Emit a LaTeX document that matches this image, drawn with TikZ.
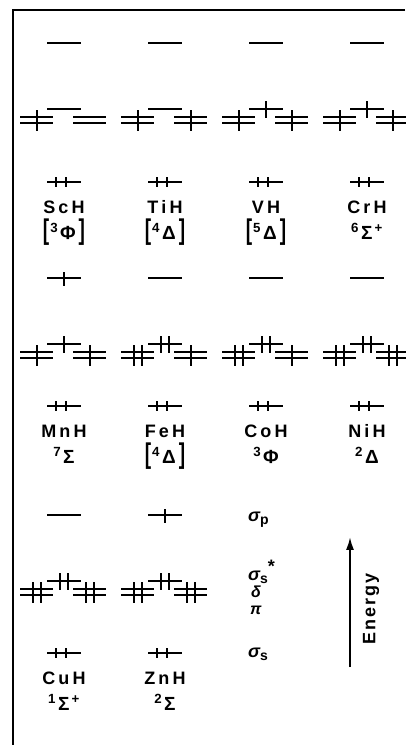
\documentclass[tikz,border=0pt]{standalone}
\usepackage{fontspec}
\setmainfont{Liberation Sans}
\usepackage{graphicx}
\usetikzlibrary{arrows.meta,positioning,calc}

% tall square brackets of the term symbols
\newcommand{\tbl}{\raisebox{-0.05em}{\scalebox{1}[1.5]{[}}\hspace{1pt}}
\newcommand{\tbr}{\hspace{3pt}\raisebox{-0.05em}{\scalebox{1}[1.5]{]}}}
% spin multiplicity
\newcommand{\mult}[1]{\textsuperscript{#1}\hspace{2pt}}
% subscript of an orbital label
\newcommand{\orbsub}[1]{\raisebox{-0.2em}{\fontsize{14}{14}\selectfont\upshape #1}}
% electrons on one level: #1 count, #2 x, #3 top, #4 bottom
\newcommand{\orbticks}[4]{%
  \ifcase#1\relax\or
    \draw[electron] (#2,#3) -- (#2,#4);
  \or
    \draw[electron] (#2-4,#3) -- (#2-4,#4);
    \draw[electron] (#2+4,#3) -- (#2+4,#4);
  \fi}

\begin{document}
\begin{tikzpicture}[x=1pt, y=-1pt,
  level/.style={line width=2.9pt},
  electron/.style={line width=2.3pt},
  frame/.style={line width=2pt},
  molname/.style={font=\fontsize{18}{18}\selectfont\bfseries\addfontfeature{LetterSpace=18},
                  inner sep=0pt, anchor=base},
  molstate/.style={font=\fontsize{19}{19}\selectfont\bfseries, inner sep=0pt, anchor=base},
  orblabel/.style={font=\fontsize{18}{18}\selectfont\bfseries\itshape, inner sep=0pt,
                   anchor=base west},
  smallorb/.style={orblabel, font=\fontsize{16}{16}\selectfont\bfseries\itshape},
  energy/.style={-{Latex[length=4.5mm,width=2.8mm]}, line width=2pt},
]
\useasboundingbox (0,0) rectangle (405,745);

% frame round the diagram
\coordinate (ftop) at (405,10);
\coordinate (fcorner) at (13,10);
\coordinate (fbot) at (13,745);
\draw[frame] (ftop) -- (fcorner) -- (fbot);

% one level scheme per hydride:
% x / sigma_p y / sigma_s y / e(sigma_p) / e(pi) / e(sigma_s*) / e(delta) / name / state
\foreach \cx/\by/\bs/\np/\npi/\nst/\nd/\mol/\st in {
    64/43/182/0/1/0/0/ScH/{\tbl\mult{3}Φ\tbr},
    165/43/182/0/1/0/1/TiH/{\tbl\mult{4}Δ\tbr},
    266/43/182/0/1/1/1/VH/{\tbl\mult{5}Δ\tbr},
    367/43/182/0/1/1/1/CrH/{\mult{6}Σ\textsuperscript{\,+}},
    64/278/406/1/1/1/1/MnH/{\mult{7}Σ},
    165/278/406/0/2/2/1/FeH/{\tbl\mult{4}Δ\tbr},
    266/278/406/0/2/2/1/CoH/{\mult{3}Φ},
    367/278/406/0/2/2/2/NiH/{\mult{2}Δ},
    64/515/653/0/2/2/2/CuH/{\mult{1}Σ\textsuperscript{\,+}},
    165/515/653/1/2/2/2/ZnH/{\mult{2}Σ}}
{
  % sigma_p
  \draw[level] (\cx-17,\by) -- (\cx+17,\by);
  \orbticks{\np}{\cx}{\by-6}{\by+8}
  % pi (left pair), sigma_s* (raised), delta (right pair)
  \draw[level] (\cx-44,\by+74) -- (\cx-11,\by+74);
  \draw[level] (\cx-44,\by+80) -- (\cx-11,\by+80);
  \draw[level] (\cx-17,\by+66) -- (\cx+17,\by+66);
  \draw[level] (\cx+9,\by+74) -- (\cx+42,\by+74);
  \draw[level] (\cx+9,\by+80) -- (\cx+42,\by+80);
  \orbticks{\npi}{\cx-27}{\by+67}{\by+88}
  \orbticks{\nst}{\cx}{\by+58}{\by+75}
  \orbticks{\nd}{\cx+26}{\by+67}{\by+88}
  % sigma_s, always filled
  \draw[level] (\cx-17,\bs) -- (\cx+17,\bs);
  \draw[electron] (\cx-8,\bs-5) -- (\cx-8,\bs+5);
  \draw[electron] (\cx+2,\bs-5) -- (\cx+2,\bs+5);
  % labels
  \node[molname] (name\mol) at (\cx,\bs+31) {\mol};
  \node[molstate] (state\mol) at (\cx,\bs+57) {\st};
}

% orbital key
\node[orblabel] (keysp) at (248,521) {σ\orbsub{p}};
\node[orblabel] (keyss) at (248,580) {σ\orbsub{s}\raisebox{0.4em}{\upshape *}};
\node[smallorb] (keyd) at (251,597) {δ};
\node[smallorb] (keypi) at (250,614) {π};
\node[orblabel] (keys) at (248,657) {σ\orbsub{s}};

% energy axis
\coordinate (ebot) at (350,667);
\coordinate (etop) at (350,537);
\draw[energy] (ebot) -- (etop);
\node[font=\fontsize{18}{18}\selectfont\bfseries\addfontfeature{LetterSpace=12},
      rotate=90, inner sep=0pt] (elabel) at (371,609) {Energy};

\end{tikzpicture}
\end{document}
